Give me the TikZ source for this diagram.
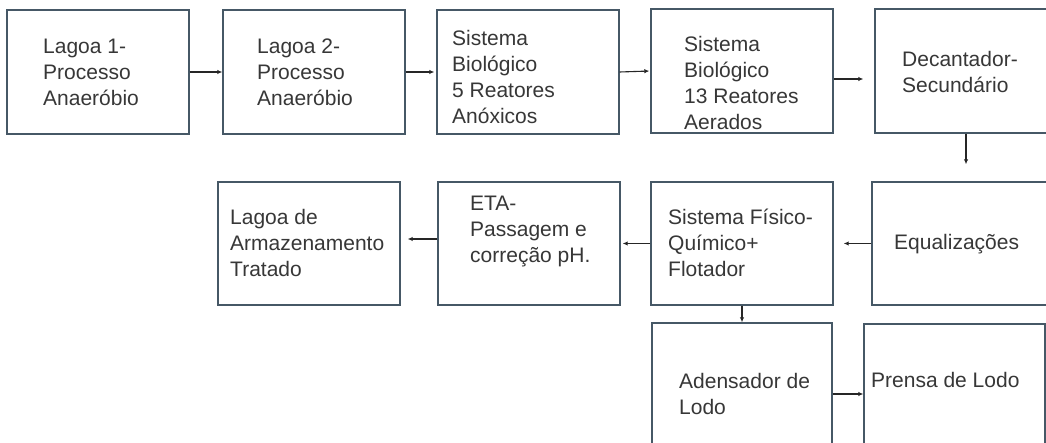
\documentclass[tikz,border=0pt]{standalone}
\usepackage{fontspec}
\setmainfont{Liberation Sans}
\usetikzlibrary{arrows.meta,fit}
\definecolor{boxc}{RGB}{70,88,102}
\definecolor{txtc}{RGB}{55,55,55}
\tikzset{
  box/.style={draw=boxc, line width=1.4pt, inner sep=0pt, fill=white},
  txt/.style={anchor=west, inner sep=0pt, align=left, text=txtc,
    font=\fontsize{21}{26}\selectfont},
  arr/.style={draw=black!85, line width=1.1pt, -{Latex[length=5pt,width=4.5pt]}}
}
\begin{document}
\begin{tikzpicture}[x=1pt,y=-1pt]
\useasboundingbox (0,0) rectangle (1046,443);
\clip (0,0) rectangle (1046,443);
\fill[white] (0,0) rectangle (1046,443);
% boxes
\node[box, fit={(7,10) (189,134)}] (b1) {};
\node[box, fit={(223,10) (405,134)}] (b2) {};
\node[box, fit={(437,10) (619,134)}] (b3) {};
\node[box, fit={(651,9) (833,133)}] (b4) {};
\node[box, fit={(875,9) (1057,133)}] (b5) {};
\node[box, fit={(218,182) (400,305)}] (lag) {};
\node[box, fit={(438,182) (620,305)}] (eta) {};
\node[box, fit={(651,182) (833,305)}] (fis) {};
\node[box, fit={(872,182) (1054,305)}] (eq) {};
\node[box, fit={(652,323) (832,447)}] (ade) {};
\node[box, fit={(864,324) (1045,448)}] (pre) {};
% texts
\node[txt] (t1) at (43,72.5) {Lagoa 1-\\Processo\\Anaeróbio};
\node[txt] (t2) at (257,72.5) {Lagoa 2-\\Processo\\Anaeróbio};
\node[txt] (t3) at (452,76.5) {Sistema\\Biológico\\5 Reatores\\Anóxicos};
\node[txt] (t4) at (684,82.5) {Sistema\\Biológico\\13 Reatores\\Aerados};
\node[txt] (t5) at (902,71.5) {Decantador-\\Secundário};
\node[txt] (t6) at (230,242.5) {Lagoa de\\Armazenamento\\Tratado};
\node[txt] (t7) at (470,231.5) {ETA-\\Passagem e\\correção pH.};
\node[txt] (t8) at (668,242.5) {Sistema Físico-\\Químico+\\Flotador};
\node[txt] (t9) at (894,244) {Equalizações};
\node[txt] (t10) at (679,393.5) {Adensador de\\Lodo};
\node[txt] (t11) at (871,380) {Prensa de Lodo};
% connectors
\draw[arr] (b1.east) -- (b2.west);
\draw[arr, shorten >=2pt] (b2.east) -- (b3.west);
\draw[arr, shorten >=1pt] (b3.east) -- (b4.west);
\draw[arr, shorten >=11pt] ([yshift=-8pt]b4.east) -- ([yshift=-8pt]b4.east -| b5.west);
\draw[arr, shorten >=17pt] (b5.south) -- (b5.south |- eq.north);
\draw[arr, shorten >=10pt] (eq.west) -- (eq.west -| fis.east);
\draw[arr, shorten >=2pt] (fis.west) -- (fis.west -| eta.east);
\draw[arr, shorten >=7pt] ([yshift=4.5pt]eta.west) -- ([yshift=4.5pt]eta.west -| lag.east);
\draw[arr] (fis.south) -- (fis.south |- ade.north);
\draw[arr] ([yshift=-9pt]ade.east) -- ([yshift=-9pt]ade.east -| pre.west);
\end{tikzpicture}
\end{document}
